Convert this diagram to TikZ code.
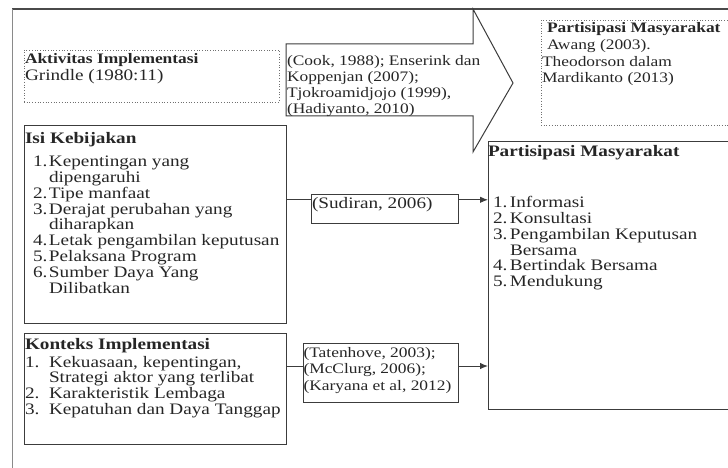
\documentclass[tikz,border=0pt]{standalone}
\usepackage{fontspec}
\setmainfont[FakeStretch=1.2]{Liberation Serif}
\usetikzlibrary{arrows.meta,calc}
\definecolor{linec}{HTML}{3C3C3C}
\definecolor{dotc}{HTML}{707070}
\definecolor{txtc}{HTML}{262626}
\definecolor{framet}{HTML}{4A4A4A}
\definecolor{framel}{HTML}{8A8A8A}
\newcommand\mainsz{\fontsize{16}{15.8}\selectfont}
\newcommand\smallsz{\fontsize{14.5}{16.3}\selectfont}
\newcommand\firstln{\rule{0pt}{12pt}}
\newcommand\itm[2][16pt]{\makebox[#1][l]{#2}}
\begin{document}
\begin{tikzpicture}[x=1pt,y=-1pt,
  boxst/.style={draw=linec, line width=0.9pt, inner sep=0pt, outer sep=0pt, anchor=north west},
  dotbox/.style={draw=dotc, dotted, line width=0.7pt, inner sep=0pt, outer sep=0pt, anchor=north west},
  txt/.style={anchor=north west, inner sep=0pt, outer sep=0pt, align=left, text=txtc, font=\mainsz},
  stxt/.style={txt, font=\smallsz},
  ln/.style={draw=linec, line width=1pt},
  arr/.style={ln, -{Latex[length=8pt,width=6.5pt]}},
  shapeln/.style={draw=linec, line width=1pt, line join=miter}
]
\useasboundingbox (0,0) rectangle (728,468);
\clip (0,0) rectangle (728,468);
\fill[white] (0,0) rectangle (728,468);
% outer frame
\draw[framet, line width=1.4pt] (12,9) -- (740,9);
\draw[framel, line width=0.9pt] (12,9) -- (12,480);

% boxes
\node[dotbox, minimum width=255pt, minimum height=52pt] (akt) at (24,50) {};
\node[boxst, minimum width=262pt, minimum height=198pt] (isi) at (24,125) {};
\node[boxst, minimum width=262pt, minimum height=111pt] (kon) at (24,333) {};
\node[boxst, minimum width=147pt, minimum height=29pt] (sud) at (311,194) {};
\node[boxst, minimum width=155pt, minimum height=59pt] (tat) at (303,343) {};
\node[boxst, minimum width=260pt, minimum height=268pt] (pm) at (488,141) {};
\node[dotbox, minimum width=200pt, minimum height=105pt] (pmtop) at (541,20) {};

% big arrow
\draw[shapeln] (286,44) -- (473,44) -- (473,9) -- (513,83) -- (473,152) -- (473,116) -- (286,116) -- cycle;

% connectors
\coordinate (j1) at ($(sud.north west)!.2!(sud.south west)$);
\draw[ln] (isi.east |- j1) -- (j1);
\draw[arr] (sud.east |- j1) -- (pm.west |- j1);
\coordinate (j2) at ($(tat.north west)!.39!(tat.south west)$);
\draw[ln] (kon.east |- j2) -- (j2);
\draw[arr] (tat.east |- j2) -- (pm.west |- j2);

% texts
\node[txt] (aktt) at (25,52) {\firstln\textbf{\fontsize{14.5}{15.8}\selectfont Aktivitas Implementasi}\\[1.2pt]Grindle (1980:11)};

\node[stxt] (cookt) at (287,54) {\firstln(Cook, 1988); Enserink dan\\[-0.3pt]Koppenjan (2007);\\[-0.3pt]Tjokroamidjojo (1999),\\[-0.3pt](Hadiyanto, 2010)};

\node[stxt] (pmtopt) at (542,21) {\firstln\hspace*{5pt}\textbf{Partisipasi Masyarakat}\\[0.3pt]\hspace*{5pt}Awang (2003).\\[0.3pt]Theodorson dalam\\[0.3pt]Mardikanto (2013)};

\node[txt] (isit) at (25,131) {\firstln\textbf{Isi Kebijakan}\\[7.9pt]
\hspace*{8pt}\itm{1.}Kepentingan yang\\
\hspace*{24pt}dipengaruhi\\
\hspace*{8pt}\itm{2.}Tipe manfaat\\
\hspace*{8pt}\itm{3.}Derajat perubahan yang\\
\hspace*{24pt}diharapkan\\
\hspace*{8pt}\itm{4.}Letak pengambilan keputusan\\
\hspace*{8pt}\itm{5.}Pelaksana Program\\
\hspace*{8pt}\itm{6.}Sumber Daya Yang\\
\hspace*{24pt}Dilibatkan};

\node[txt] (kont) at (25,337) {\firstln\textbf{Konteks Implementasi}\\[2.2pt]
\itm[24pt]{1.}Kekuasaan, kepentingan,\\
\hspace*{24pt}Strategi aktor yang terlibat\\
\itm[24pt]{2.}Karakteristik Lembaga\\
\itm[24pt]{3.}Kepatuhan dan Daya Tanggap};

\node[txt] (sudt) at (312,196) {\firstln(Sudiran, 2006)};

\node[stxt] (tatt) at (303.5,345) {\firstln(Tatenhove, 2003);\\[0.2pt](McClurg, 2006);\\[0.2pt](Karyana et al, 2012)};

\node[txt] (pmt) at (488,144) {\firstln\textbf{Partisipasi Masyarakat}\\[35.9pt]
\hspace*{5pt}\itm[17pt]{1.}Informasi\\
\hspace*{5pt}\itm[17pt]{2.}Konsultasi\\
\hspace*{5pt}\itm[17pt]{3.}Pengambilan Keputusan\\
\hspace*{22pt}Bersama\\
\hspace*{5pt}\itm[17pt]{4.}Bertindak Bersama\\
\hspace*{5pt}\itm[17pt]{5.}Mendukung};
\end{tikzpicture}
\end{document}
